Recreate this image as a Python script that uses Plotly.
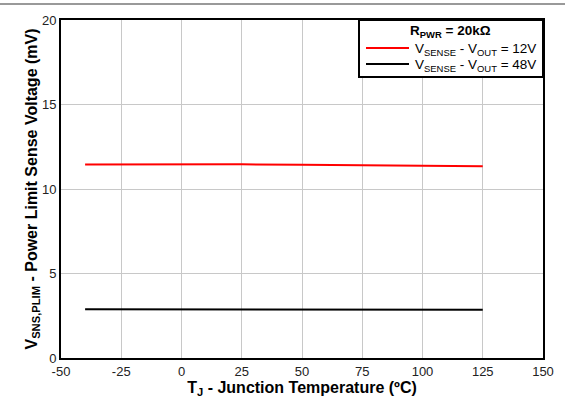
import plotly.graph_objects as go

# Junction temperature sweep (°C)
temp_c = [-40, -25, 0, 25, 50, 75, 100, 125]
# Power-limit sense voltage (mV), RPWR = 20 kΩ
vsns_12v = [11.45, 11.46, 11.46, 11.46, 11.44, 11.41, 11.38, 11.34]
vsns_48v = [2.88, 2.88, 2.88, 2.88, 2.87, 2.87, 2.86, 2.86]

x_ticks = [-50, -25, 0, 25, 50, 75, 100, 125, 150]
x_tick_text = ["-50", "-25", "0", "25", "50", "75", "100", "125", "150"]
y_ticks = [0, 5, 10, 15, 20]
y_tick_text = ["0", "5", "10", "15", "20"]

FONT = "Liberation Sans, Arial, sans-serif"

fig = go.Figure()
fig.add_trace(go.Scatter(x=temp_c, y=vsns_12v, mode="lines",
                         line=dict(color="#ff0000", width=2), showlegend=False))
fig.add_trace(go.Scatter(x=temp_c, y=vsns_48v, mode="lines",
                         line=dict(color="#000000", width=2), showlegend=False))

axis_common = dict(showgrid=True, gridcolor="#c8c8c8", gridwidth=1,
                   showline=True, linecolor="black", linewidth=2, mirror=True,
                   ticks="", zeroline=False, automargin=False,
                   tickfont=dict(family=FONT, size=13, color="#222"))

fig.update_xaxes(range=[-50, 150], tickvals=x_ticks, ticktext=x_tick_text,
                 title=dict(text="<b>T<sub>J</sub> - Junction Temperature (ºC)</b>",
                            font=dict(family=FONT, size=16, color="black"), standoff=2),
                 **axis_common)
fig.update_yaxes(range=[0, 20], tickvals=y_ticks, ticktext=y_tick_text,
                 title=dict(text="<b>V<sub>SNS,PLIM</sub> - Power Limit Sense Voltage (mV)</b>",
                            font=dict(family=FONT, size=16, color="black"), standoff=0),
                 **axis_common)

L, R, T, B = 61, 22, 20, 41
W, H = 565, 399
pw, ph = W - L - R, H - T - B

def px_x(px):
    return (px - L) / pw

def px_y(py):
    return (H - B - py) / ph

shapes = [
    # rule across the top of the page
    dict(type="line", xref="paper", yref="paper",
         x0=px_x(0), x1=px_x(W), y0=px_y(4), y1=px_y(4),
         line=dict(color="#777", width=1.5)),
    # legend frame
    dict(type="rect", xref="paper", yref="paper",
         x0=px_x(359), x1=1, y0=px_y(77), y1=1,
         line=dict(color="black", width=2), fillcolor="white", layer="above"),
    # legend line samples
    dict(type="line", xref="paper", yref="paper",
         x0=px_x(366), x1=px_x(409), y0=px_y(48), y1=px_y(48),
         line=dict(color="#ff0000", width=2), layer="above"),
    dict(type="line", xref="paper", yref="paper",
         x0=px_x(366), x1=px_x(409), y0=px_y(64), y1=px_y(64),
         line=dict(color="black", width=2), layer="above"),
]

annotations = [
    dict(text="<b>R<sub>PWR</sub> = 20kΩ</b>", xref="paper", yref="paper",
         x=px_x(450), y=px_y(32), xanchor="center", yanchor="middle",
         showarrow=False, font=dict(family=FONT, size=13.5, color="black")),
    dict(text="V<sub>SENSE</sub> - V<sub>OUT</sub> = 12V", xref="paper", yref="paper",
         x=px_x(413), y=px_y(49), xanchor="left", yanchor="middle",
         showarrow=False, font=dict(family=FONT, size=13.5, color="black")),
    dict(text="V<sub>SENSE</sub> - V<sub>OUT</sub> = 48V", xref="paper", yref="paper",
         x=px_x(413), y=px_y(65), xanchor="left", yanchor="middle",
         showarrow=False, font=dict(family=FONT, size=13.5, color="black")),
]

fig.update_layout(width=W, height=H, margin=dict(l=L, r=R, t=T, b=B),
                  paper_bgcolor="white", plot_bgcolor="white",
                  shapes=shapes, annotations=annotations,
                  font=dict(family=FONT))

fig.write_html("out.html")
